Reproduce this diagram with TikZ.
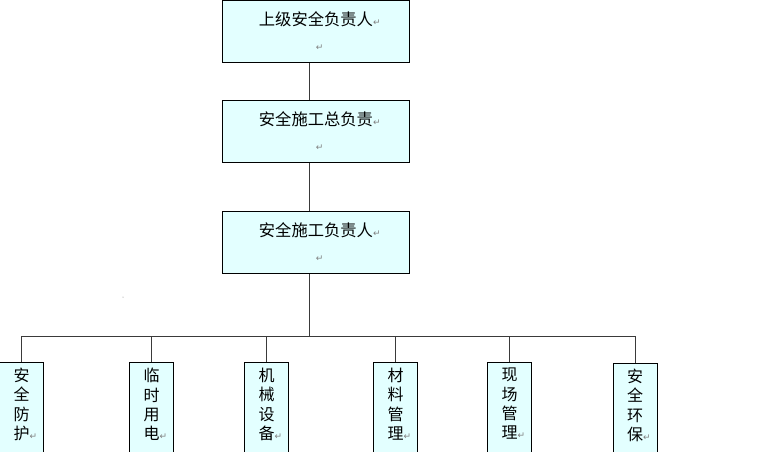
\documentclass[tikz,border=0pt]{standalone}
\usepackage{fontspec}
\setmainfont{Noto Sans CJK SC}
\newfontfamily\markfont{DejaVu Sans}
\definecolor{boxfill}{HTML}{E3FFFF}
\definecolor{linecol}{HTML}{3A3A3A}
\newcommand{\pmark}{\rlap{\markfont\fontsize{9}{9}\selectfont\color{gray}↵}}
\begin{document}
\begin{tikzpicture}[x=1pt,y=-1pt,
  topbox/.style={draw=black, line width=0.9pt, fill=boxfill, minimum width=187pt, minimum height=62pt, anchor=north west, inner sep=0pt, align=center, font=\fontsize{16.3}{25}\selectfont},
  leafbox/.style={draw=black, line width=0.9pt, fill=boxfill, minimum width=44pt, minimum height=110pt, anchor=north, inner sep=0pt},
  leaftext/.style={anchor=north, inner sep=0pt, align=center, font=\fontsize{16}{19.3}\selectfont},
  conn/.style={draw=linecol, line width=0.9pt}]
\useasboundingbox (0,0) rectangle (760,452);
\clip (0,0) rectangle (760,452);
\fill[white] (0,0) rectangle (760,452);
\node[topbox] (a) at (222,0) {上级安全负责人\pmark\\\pmark};
\node[topbox] (b) at (222,100) {安全施工总负责\pmark\\\pmark};
\node[topbox] (c) at (222,211) {安全施工负责人\pmark\\\pmark};
\coordinate (v) at (309,0);
\draw[conn] (a.south -| v) -- (b.north -| v);
\draw[conn] (b.south -| v) -- (c.north -| v);
\coordinate (bus) at (309,336);
\draw[conn] (c.south -| v) -- (bus);
\node[leafbox] (l1) at (21.5,362) {};
\node[leafbox] (l2) at (151.5,362) {};
\node[leafbox] (l3) at (266.5,362) {};
\node[leafbox] (l4) at (395.5,362) {};
\node[leafbox] (l5) at (509.5,362) {};
\node[leafbox] (l6) at (635,363) {};
\node[leaftext] (t1) at (21.5,368) {安\\全\\防\\护\pmark};
\node[leaftext] (t2) at (151.5,368) {临\\时\\用\\电\pmark};
\node[leaftext] (t3) at (266.5,368) {机\\械\\设\\备\pmark};
\node[leaftext] (t4) at (395.5,368) {材\\料\\管\\理\pmark};
\node[leaftext] (t5) at (509.5,368) {现\\场\\管\\理\pmark};
\node[leaftext] (t6) at (635,369) {安\\全\\环\\保\pmark};
\foreach \i in {1,...,6} {\coordinate (j\i) at (l\i.north |- bus);}
\draw[conn] (j1) -- (j6);
\foreach \i in {1,...,6} {\draw[conn] (j\i) -- (l\i.north);}
\fill[gray] (123,297) circle (0.5pt);
\end{tikzpicture}
\end{document}
